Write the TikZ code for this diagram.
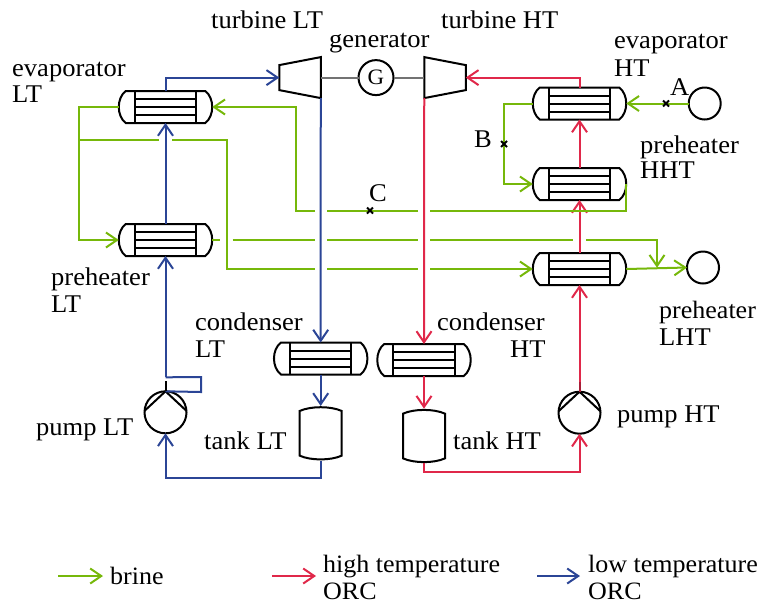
\documentclass[tikz,border=0pt]{standalone}
\usepackage{fontspec}
\setmainfont[FakeStretch=1.04]{Liberation Serif}
\usetikzlibrary{arrows.meta,shapes.misc,calc}
\definecolor{brine}{HTML}{76B80A}
\definecolor{hot}{HTML}{E0284A}
\definecolor{cold}{HTML}{2B4596}
\tikzset{
  pipe/.style={line width=2pt,line join=miter},
  tip/.style={-{Straight Barb[length=11pt,width=15pt,line width=2pt]}},
  green/.style={pipe,draw=brine},
  red/.style={pipe,draw=hot},
  blue/.style={pipe,draw=cold},
  part/.style={line width=2pt,draw=black},
  hxbox/.style={minimum width=93.5pt,minimum height=32pt,inner sep=0pt,outer sep=0pt},
  tankbox/.style={minimum width=42pt,minimum height=54.7pt,inner sep=0pt,outer sep=0pt},
  turbox/.style={minimum width=41.5pt,minimum height=41pt,inner sep=0pt,outer sep=0pt},
  wheel/.style={circle,part,fill=white,inner sep=0pt,outer sep=0pt},
  xmark/.style={cross out,draw=black,line width=1.8pt,minimum size=6pt,inner sep=0pt,outer sep=0pt},
  lbl/.style={anchor=base west,inner sep=0pt,font=\fontsize{25.5}{27}\selectfont},
  leglbl/.style={anchor=base west,inner sep=0pt,font=\fontsize{25}{27}\selectfont},
}
\newcommand{\hxpart}[3]{%
  \node[hxbox] (#1) at (#2,#3) {};
  \draw[part,fill=white] ($(#1.north west)+(7,0)$) -- ($(#1.north east)+(-7,0)$)
     .. controls ($(#1.east)+(2.3,-9)$) and ($(#1.east)+(2.3,9)$) .. ($(#1.south east)+(-7,0)$)
     -- ($(#1.south west)+(7,0)$)
     .. controls ($(#1.west)+(-2.3,9)$) and ($(#1.west)+(-2.3,-9)$) .. ($(#1.north west)+(7,0)$) -- cycle;
  \draw[part] ($(#1.north west)+(16,0)$) -- ($(#1.south west)+(16,0)$);
  \draw[part] ($(#1.north east)+(-16,0)$) -- ($(#1.south east)+(-16,0)$);
  \draw[part] ($(#1.west)+(16,-8)$) -- ($(#1.east)+(-16,-8)$);
  \draw[part] ($(#1.west)+(16,0)$) -- ($(#1.east)+(-16,0)$);
  \draw[part] ($(#1.west)+(16,8)$) -- ($(#1.east)+(-16,8)$);
}
\newcommand{\tankpart}[3]{%
  \node[tankbox] (#1) at (#2,#3) {};
  \draw[part,fill=white] ($(#1.north west)+(0,5)$)
     .. controls ($(#1.north)+(-10,0)$) and ($(#1.north)+(10,0)$) .. ($(#1.north east)+(0,5)$)
     -- ($(#1.south east)+(0,-5)$)
     .. controls ($(#1.south)+(10,0)$) and ($(#1.south)+(-10,0)$) .. ($(#1.south west)+(0,-5)$) -- cycle;
}
\newcommand{\pumpinner}[1]{%
  \draw[part] (#1.176) -- (#1.north) -- (#1.4);
}
\begin{document}
\begin{tikzpicture}[x=1pt,y=-1pt]
\useasboundingbox (0,0) rectangle (759,606);
% parts
\hxpart{evl}{165.5}{107}
\hxpart{prl}{165.5}{240}
\hxpart{evh}{579.5}{103.5}
\hxpart{hht}{579.5}{184}
\hxpart{lht}{579.5}{269}
\hxpart{cnl}{320.7}{358.5}
\hxpart{cnh}{424}{360}
\tankpart{tkl}{320.7}{433.3}
\tankpart{tkh}{424}{436}
\node[wheel,minimum size=42pt] (pul) at (165.5,412.3) {};
\node[wheel,minimum size=42pt] (puh) at (579.5,412.7) {};
\pumpinner{pul}
\pumpinner{puh}
\node[turbox] (tul) at (300,77.6) {};
\node[turbox] (tuh) at (445,77.6) {};
\draw[part,fill=white] ($(tul.west)+(0,-12.5)$) -- (tul.north east) -- (tul.south east) -- ($(tul.west)+(0,12.5)$) -- cycle;
\draw[part,fill=white] (tuh.north west) -- ($(tuh.east)+(0,-12.5)$) -- ($(tuh.east)+(0,12.5)$) -- (tuh.south west) -- cycle;
\node[wheel,minimum size=35pt,font=\fontsize{22}{24}\selectfont] (gen) at (376,77.6) {G};
\node[wheel,minimum size=32pt] (src) at (704.7,103.5) {};
\node[wheel,minimum size=32pt] (snk) at (703,267.5) {};
\draw[line width=2pt,draw=black!55] (tul.east) -- (gen);
\draw[line width=2pt,draw=black!55] (gen) -- (tuh.west);
% blue loop
\coordinate (b1) at (201,377);
\coordinate (b2) at (201,392);
\draw[blue,tip] (evl.north) |- (tul.west);
\draw[blue,tip] (prl.north) -- (evl.south);
\draw[blue,tip] (tul.south east) -- (cnl.north);
\draw[blue,tip] (cnl.south) -- (tkl.north);
\coordinate (b3) at (165.5,478);
\draw[blue,tip] (tkl.south) |- (b3) -- (pul.south);
\draw[blue] (pul.north) -- (b2) -- (b1) -- ($(pul.north)+(0,-14)$);
\draw[blue,tip] ($(pul.north)+(0,-14)$) -- (prl.south);
\draw[part] (pul.north) -- ($(pul.north)+(0,-10)$);
% red loop
\coordinate (r1) at (579.5,472);
\draw[red,tip] (puh.north) -- (lht.south);
\draw[part,draw=hot!75!black] (puh.north) -- ($(puh.north)+(0,-10)$);
\draw[red,tip] (lht.north) -- (hht.south);
\draw[red,tip] (hht.north) -- (evh.south);
\draw[red,tip] (evh.north) |- (tuh.east);
\draw[red,tip] (tuh.south west) -- (cnh.north);
\draw[red,tip] (cnh.south) -- (tkh.north);
\draw[red,tip] (tkh.south) |- (r1) -- (puh.south);
% brine
\coordinate (ga1) at (430,210.5); \coordinate (ga2) at (418,210.5);
\coordinate (ga3) at (327,210.5); \coordinate (ga4) at (315,210.5);
\coordinate (ga5) at (296,210.5);
\coordinate (gb1) at (430,269); \coordinate (gb2) at (418,269);
\coordinate (gb3) at (327,269); \coordinate (gb4) at (315,269);
\coordinate (gb5) at (226.7,269);
\coordinate (gc0) at (220,240);
\coordinate (gc1) at (232.7,240); \coordinate (gc2) at (315,240);
\coordinate (gc3) at (327,240); \coordinate (gc4) at (418,240);
\coordinate (gc5) at (430,240); \coordinate (gc6) at (572.7,240);
\coordinate (gc7) at (586,240); \coordinate (gc8) at (657,240);
\coordinate (gd) at (657,267.7);
\coordinate (ge1) at (78.7,140);
\coordinate (ge2) at (159.3,140); \coordinate (ge3) at (172,140);
\coordinate (ge4) at (226.7,140);
\coordinate (gf) at (503.5,144);
\draw[green,tip] (src.west) -- (evh.east);
\draw[green,tip] (evh.west) -| (gf) |- (hht.west);
\draw[green] (hht.east) |- (ga1);
\draw[green] (ga2) -- (ga3);
\draw[green,tip] (ga4) -- (ga5) |- (evl.east);
\draw[green,tip] (evl.west) -| (ge1) |- (prl.west);
\draw[green] (ge1) -- (ge2);
\draw[green] (ge3) -- (ge4) -- (gb5) -- (gb4);
\draw[green] (gb3) -- (gb2);
\draw[green,tip] (gb1) -- (lht.west);
\draw[green] (prl.east) -- (gc0);
\draw[green] (gc1) -- (gc2);
\draw[green] (gc3) -- (gc4);
\draw[green] (gc5) -- (gc6);
\draw[green,tip] (gc7) -- (gc8) -- (gd);
\draw[green,tip] (lht.east) -- (snk.west);
% marks
\node[xmark] (mA) at (666,103.5) {};
\node[xmark] (mB) at (504,144) {};
\node[xmark] (mC) at (370,210.5) {};
% labels
\node[lbl] (tA) at (670,95) {A};
\node[lbl] (tB) at (474,147) {B};
\node[lbl] (tC) at (369,201) {C};
\node[lbl] (t1) at (211,28) {turbine LT};
\node[lbl] (t2) at (329,47) {generator};
\node[lbl] (t3) at (441,28) {turbine HT};
\node[lbl] (t4) at (12,76) {evaporator};
\node[lbl] (t4b) at (12,102) {LT};
\node[lbl] (t5) at (614,48) {evaporator};
\node[lbl] (t5b) at (614,76) {HT};
\node[lbl] (t6) at (51,285) {preheater};
\node[lbl] (t6b) at (51,312) {LT};
\node[lbl] (t7) at (640,153) {preheater};
\node[lbl] (t7b) at (640,178) {HHT};
\node[leglbl] (t8) at (659,318) {preheater};
\node[lbl] (t8b) at (659,345) {LHT};
\node[lbl] (t9) at (195,330) {condenser};
\node[lbl] (t9b) at (195,357) {LT};
\node[lbl] (t10) at (437,330) {condenser};
\node[lbl] (t10b) at (510,357) {HT};
\node[lbl] (t11) at (36,435) {pump LT};
\node[lbl] (t12) at (204,449) {tank LT};
\node[lbl] (t13) at (453,449) {tank HT};
\node[lbl] (t14) at (617,422) {pump HT};
% legend
\coordinate (l1a) at (58,576); \coordinate (l1b) at (103,576);
\coordinate (l2a) at (272,576); \coordinate (l2b) at (316,576);
\coordinate (l3a) at (537,576); \coordinate (l3b) at (580,576);
\draw[green,tip] (l1a) -- (l1b);
\draw[red,tip] (l2a) -- (l2b);
\draw[blue,tip] (l3a) -- (l3b);
\node[leglbl] (t15) at (110,584) {brine};
\node[leglbl] (t16) at (323,572) {high temperature};
\node[leglbl] (t16b) at (323,599) {ORC};
\node[leglbl] (t17) at (588,572) {low temperature};
\node[leglbl] (t17b) at (588,599) {ORC};
\end{tikzpicture}
\end{document}
